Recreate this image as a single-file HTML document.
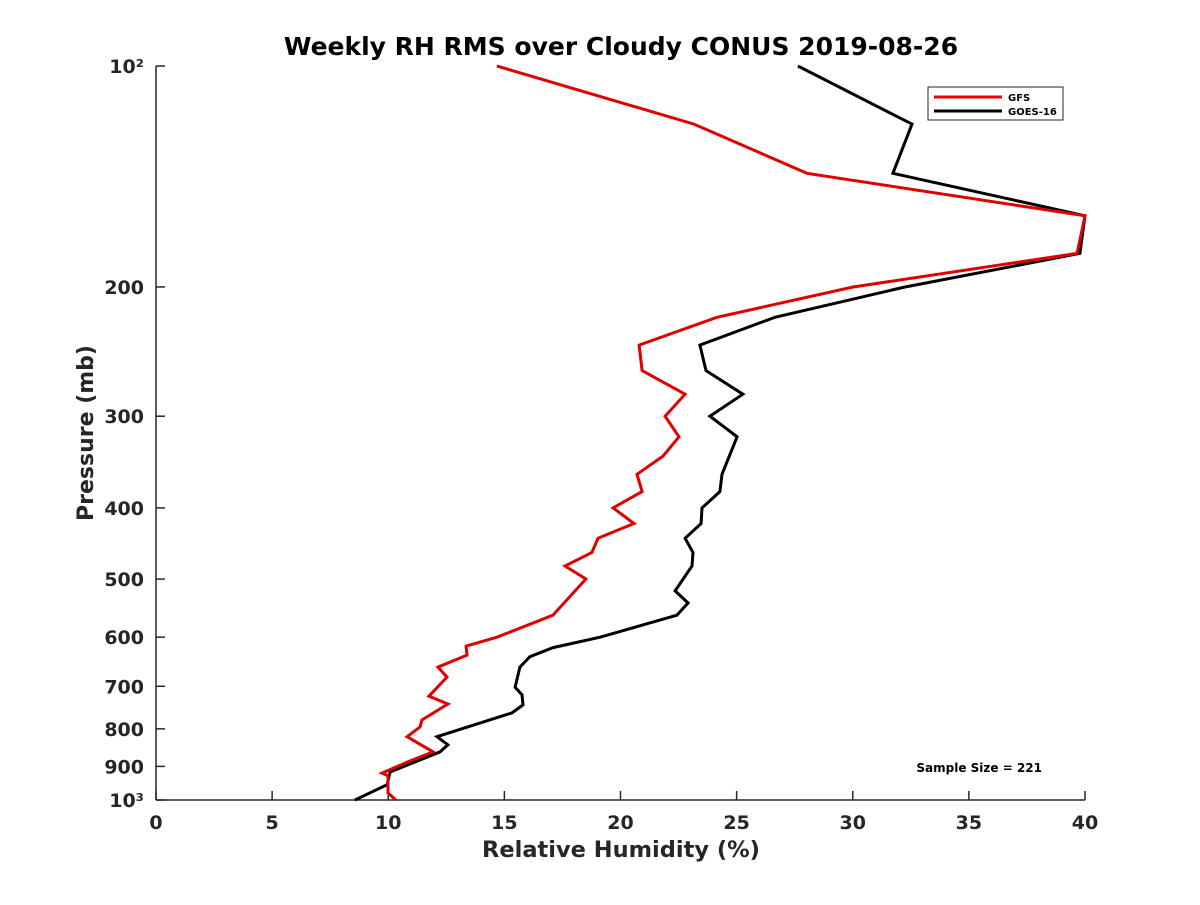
<!DOCTYPE html>
<html><head><meta charset="utf-8"><style>
body{margin:0;background:#fff}
text{font-family:"DejaVu Sans","Liberation Sans",sans-serif;font-weight:bold;fill:#262626}
</style></head><body>
<svg width="1200" height="900" xmlns="http://www.w3.org/2000/svg">
<rect width="1200" height="900" fill="#fff"/>
<g id="axes"></g>
<g id="series"></g>
<text x="621" y="55" text-anchor="middle" font-size="25" style="fill:#000">Weekly RH RMS over Cloudy CONUS 2019-08-26</text>
<text x="621" y="857" text-anchor="middle" font-size="22.5">Relative Humidity (%)</text>
<text transform="translate(93,433) rotate(-90)" text-anchor="middle" font-size="22">Pressure (mb)</text>
<text x="1042" y="772" text-anchor="end" font-size="12" style="fill:#000">Sample Size = 221</text>
<g>
<rect x="928" y="87" width="135" height="33" fill="#fff" stroke="#262626" stroke-width="1"/>
<line x1="934" y1="97" x2="1002" y2="97" stroke="#e00" stroke-width="3"/>
<text x="1008" y="101" font-size="10" style="fill:#000">GFS</text>
<line x1="934" y1="111" x2="1002" y2="111" stroke="#000" stroke-width="3"/>
<text x="1008" y="115" font-size="10" style="fill:#000">GOES-16</text>
</g>
</svg>
<script>
const gfsRH=[14.68,23.16,28.03,40.0,39.66,30.01,24.15,20.80,20.93,22.78,21.92,22.52,21.83,20.71,20.93,19.68,20.58,19.03,18.77,17.61,18.51,17.09,14.68,13.35,13.39,12.14,12.53,11.75,12.57,11.45,11.37,10.81,11.93,10.85,9.73,9.99,9.99,10.33];
const gfsP=[100,120,140,160,180,200,220,240,260,280,300,320,340,360,380,400,420,440,460,480,500,560,600,617,635,659,680,722,740,778,795,820,860,887,919,927,978,1000];
const goesRH=[27.64,32.55,31.73,40.0,39.78,32.25,26.65,23.42,23.68,25.27,23.85,25.02,24.37,24.28,23.51,23.47,22.78,23.12,23.08,22.35,22.91,22.43,19.12,17.10,16.10,15.67,15.46,15.76,15.80,15.33,12.10,12.57,12.23,10.08,9.95,8.57];
const goesP=[100,120,140,160,180,200,220,240,260,280,300,320,360,380,400,420,440,460,480,519,539,560,600,620,638,659,702,719,742,761,820,841,860,916,953,1000];
const xTicks=[0,5,10,15,20,25,30,35,40];
const yTicks=[100,200,300,400,500,600,700,800,900,1000];
const yTickLabels=["10²","200","300","400","500","600","700","800","900","10³"];
const X0=156,X1=1085,Y0=66,Y1=800;
const xs=v=>X0+(v-0)/(40-0)*(X1-X0);
const ys=p=>Y0+Math.log10(p/100)*(Y1-Y0);
const NS="http://www.w3.org/2000/svg";
const ax=document.getElementById('axes'),sg=document.getElementById('series');
function mk(t,a,parent){const e=document.createElementNS(NS,t);for(const k in a)e.setAttribute(k,a[k]);parent.appendChild(e);return e;}
let l=mk('line',{x1:X0,y1:Y0,x2:X0,y2:Y1,stroke:'#262626','stroke-width':1.5},ax);


l=mk('line',{x1:X0,y1:Y1,x2:X1,y2:Y1,stroke:'#262626','stroke-width':1.5},ax);


xTicks.forEach(v=>{
 const t=mk('line',{x1:xs(v),y1:Y1,x2:xs(v),y2:Y1-9,stroke:'#262626','stroke-width':1.5},ax);
 
 
 const tx=mk('text',{x:xs(v),y:Y1+29,'text-anchor':'middle','font-size':19},ax);
 tx.textContent=v;
 
 
});
yTicks.forEach((p,i)=>{
 const t=mk('line',{x1:X0,y1:ys(p),x2:X0+9,y2:ys(p),stroke:'#262626','stroke-width':1.5},ax);
 
 
 const tx=mk('text',{x:X0-12,y:ys(p)+7,'text-anchor':'end','font-size':19},ax);
 tx.textContent=yTickLabels[i];
 
 
});
function line(rh,p,col,name){
 const pts=rh.map((v,i)=>xs(v).toFixed(1)+','+ys(p[i]).toFixed(1)).join(' ');
 const e=mk('polyline',{points:pts,fill:'none',stroke:col,'stroke-width':3,'stroke-linejoin':'miter'},sg);
 
 
}
line(goesRH,goesP,'#000','goes16-line');
line(gfsRH,gfsP,'#e00000','gfs-line');
</script>
</body></html>
